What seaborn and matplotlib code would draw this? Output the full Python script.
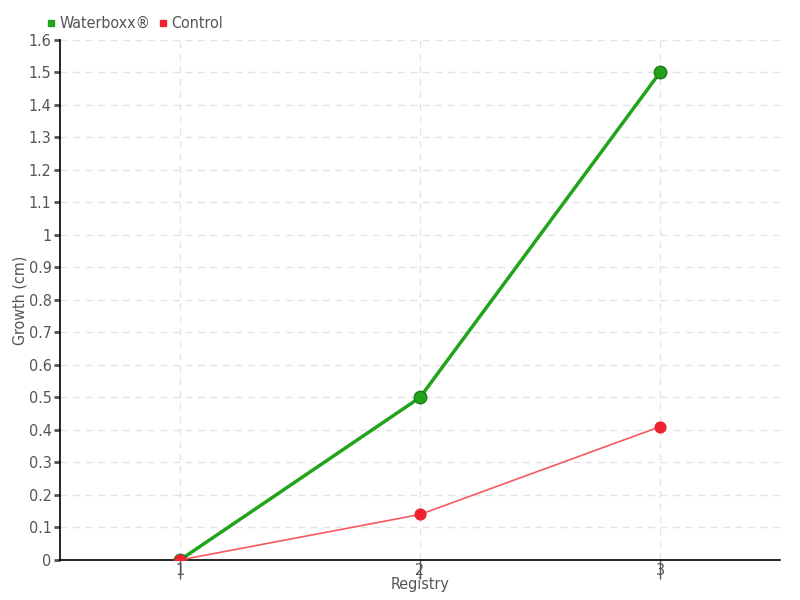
import matplotlib
matplotlib.use("Agg")
import matplotlib.pyplot as plt
import seaborn as sns
import pandas as pd
from matplotlib.lines import Line2D

registry = [1, 2, 3]
waterboxx = [0.0, 0.5, 1.5]
control = [0.0, 0.14, 0.41]
y_ticks = [0, 0.1, 0.2, 0.3, 0.4, 0.5, 0.6, 0.7, 0.8, 0.9, 1.0, 1.1, 1.2, 1.3, 1.4, 1.5, 1.6]
y_labels = ["0", "0.1", "0.2", "0.3", "0.4", "0.5", "0.6", "0.7", "0.8", "0.9",
            "1", "1.1", "1.2", "1.3", "1.4", "1.5", "1.6"]

sns.set_style("white")
plt.rcParams["font.family"] = ["DejaVu Sans"]
plt.rcParams["font.stretch"] = "condensed"
TXT = "#555555"

df = pd.concat([
    pd.DataFrame({"Registry": registry, "Growth": waterboxx, "series": "Waterboxx®"}),
    pd.DataFrame({"Registry": registry, "Growth": control, "series": "Control"}),
])

fig = plt.figure(figsize=(8, 6), dpi=100)
ax = fig.add_axes([0.075, 0.0667, 0.9, 0.8667])

green = "#22a31c"
red = "#ee2230"
sns.lineplot(data=df[df.series == "Waterboxx®"], x="Registry", y="Growth", ax=ax,
             color=green, linewidth=2.5, marker="o", markersize=9,
             markerfacecolor=green, markeredgecolor="#1d7a17", markeredgewidth=1, zorder=3)
sns.lineplot(data=df[df.series == "Control"], x="Registry", y="Growth", ax=ax,
             color="#f55a62", linewidth=1.2, marker="o", markersize=8,
             markerfacecolor=red, markeredgecolor=red, zorder=4)

ax.set_xlim(0.5, 3.5)
ax.set_ylim(0, 1.6)
ax.set_xticks(registry)
ax.set_xticklabels([str(r) for r in registry])
ax.set_yticks(y_ticks)
ax.set_yticklabels(y_labels)
ax.grid(True, color="#e3e3e3", linestyle=(0, (5, 4)), linewidth=1)
ax.set_axisbelow(True)
for s in ["top", "right"]:
    ax.spines[s].set_visible(False)
for s in ["left", "bottom"]:
    ax.spines[s].set_color("black")
    ax.spines[s].set_linewidth(1.2)
ax.tick_params(axis="y", length=4, width=2, color="#555555", labelsize=11.5, labelcolor=TXT, pad=2, left=True)
ax.tick_params(axis="x", length=14, width=1, color="#555555", labelsize=11.5, labelcolor=TXT, pad=-12, bottom=True, direction="out")
ax.set_xlabel("Registry", fontsize=11.5, color=TXT)
ax.set_ylabel("Growth (cm)", fontsize=11.5, color=TXT)
ax.xaxis.set_label_coords(0.5, -0.033)
ax.yaxis.set_label_coords(-0.045, 0.5)

handles = [Line2D([], [], linestyle="none", marker="s", markersize=5, color=green),
           Line2D([], [], linestyle="none", marker="s", markersize=5, color=red)]
leg = fig.legend(handles, ["Waterboxx®", "Control"], loc="upper left", bbox_to_anchor=(0.04, 0.997),
                 ncol=2, frameon=False, handlelength=0.6, handletextpad=0.2, columnspacing=0.5,
                 fontsize=11.5)
for t in leg.get_texts():
    t.set_color(TXT)

fig.savefig("out.png", dpi=100)
